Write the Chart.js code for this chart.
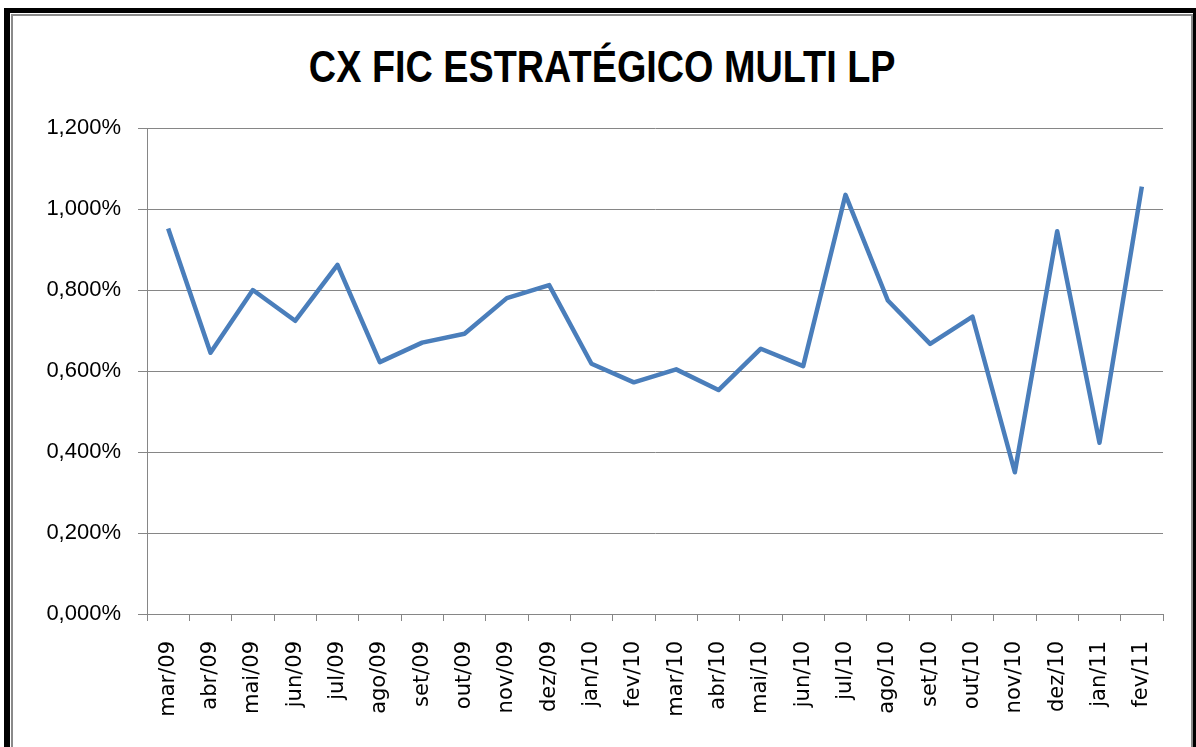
<!DOCTYPE html>
<html>
<head>
<meta charset="utf-8">
<script src="https://cdn.jsdelivr.net/npm/chart.js@4"></script>
<style>
  body { margin: 0; background: #fff; overflow: hidden; }
  #frame {
    position: absolute; left: 4px; top: 8px; width: 1195px; height: 800px;
    box-sizing: border-box; border: 6px solid #000; border-top-width: 5px;
  }
  #frame .inner {
    position: absolute; left: 1px; top: 1px; right: 0; bottom: 0;
    border: 2px solid #8a8a8a;
  }
  #title {
    position: absolute; left: 4px; top: 44px; width: 1196px;
    text-align: center; font: bold 45px/45px "Liberation Sans", Arial, sans-serif;
    color: #000; white-space: nowrap;
  }
  #title span { display: inline-block; transform: scaleX(0.84); }
  #chart { position: absolute; left: 0; top: 0; }
</style>
</head>
<body>
<div id="frame"><div class="inner"></div></div>
<div id="title"><span>CX FIC ESTRATÉGICO MULTI LP</span></div>
<canvas id="chart" width="1196" height="747"></canvas>
<script>
// monthly return, %
const months = ["mar/09", "abr/09", "mai/09", "jun/09", "jul/09", "ago/09", "set/09", "out/09",
  "nov/09", "dez/09", "jan/10", "fev/10", "mar/10", "abr/10", "mai/10", "jun/10",
  "jul/10", "ago/10", "set/10", "out/10", "nov/10", "dez/10", "jan/11", "fev/11"];
const returns = [0.952, 0.645, 0.800, 0.724, 0.862, 0.622, 0.670, 0.692,
  0.780, 0.812, 0.618, 0.572, 0.604, 0.553, 0.655, 0.612,
  1.035, 0.774, 0.667, 0.734, 0.350, 0.945, 0.423, 1.055];
const yTicks = [0, 0.2, 0.4, 0.6, 0.8, 1.0, 1.2];

const gridColor = '#868686';

new Chart(document.getElementById('chart'), {
  type: 'line',
  data: {
    labels: months,
    datasets: [{
      label: 'CX FIC ESTRATÉGICO MULTI LP',
      data: returns,
      borderColor: '#4a7ebb',
      borderWidth: 4.5,
      borderJoinStyle: 'round',
      pointRadius: 0,
      tension: 0,
      fill: false
    }]
  },
  options: {
    responsive: false,
    animation: false,
    layout: { padding: { top: 128, right: 33, bottom: 0, left: 0 } },
    plugins: {
      legend: { display: false },
      title: { display: false },
      tooltip: { enabled: false }
    },
    scales: {
      x: {
        offset: true,
        afterFit: s => { s.height = 133; },
        grid: { offset: true, drawOnChartArea: false, color: gridColor, tickLength: 7 },
        border: { color: gridColor },
        ticks: {
          minRotation: 90, maxRotation: 90, autoSkip: false, padding: 20,
          color: '#000', font: { family: 'DejaVu Sans', size: 21 }
        }
      },
      y: {
        min: 0, max: 1.2,
        afterFit: s => { s.width = 147; },
        afterBuildTicks: s => { s.ticks = yTicks.map(v => ({ value: v })); },
        grid: { color: gridColor, tickLength: 9 },
        border: { color: gridColor },
        ticks: {
          padding: 17, color: '#000',
          font: { family: 'Liberation Sans', size: 22 },
          callback: v => v.toFixed(3).replace('.', ',') + '%'
        }
      }
    }
  }
});
</script>
</body>
</html>
